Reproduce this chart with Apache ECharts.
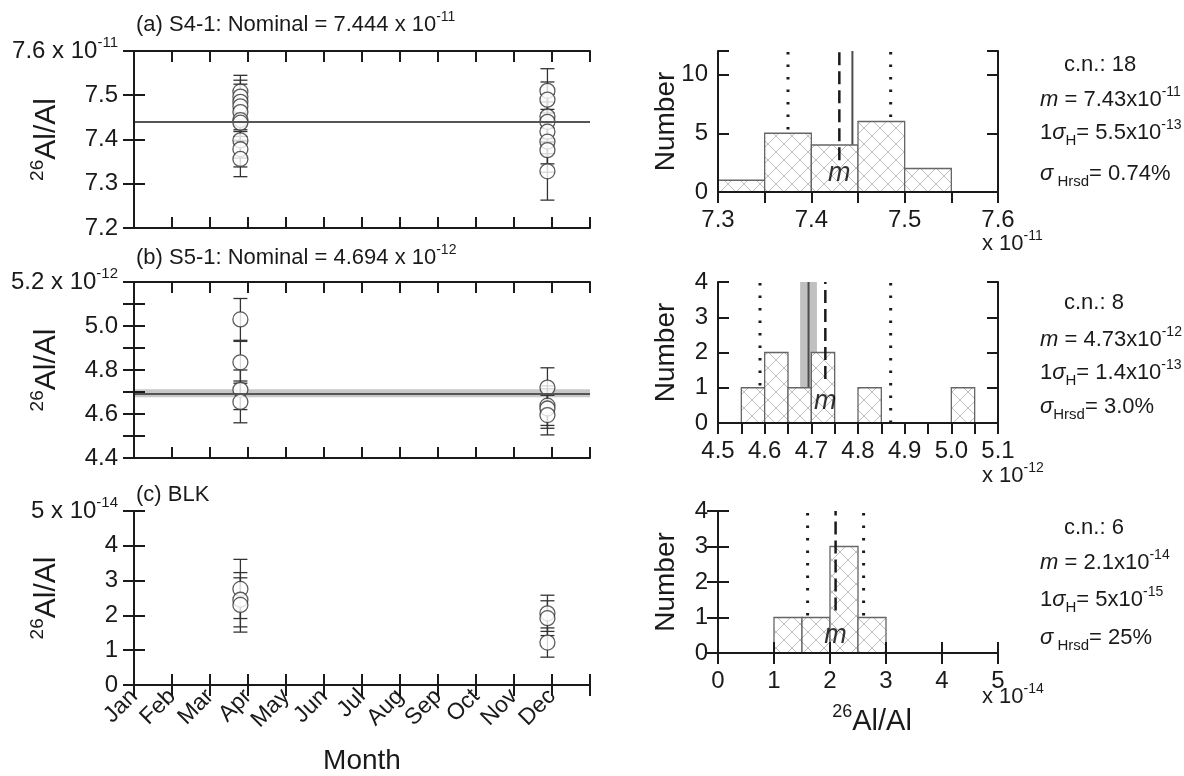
<!DOCTYPE html>
<html>
<head>
<meta charset="utf-8">
<script src="https://cdn.jsdelivr.net/npm/echarts@6/dist/echarts.min.js"></script>
<style>
  html, body { margin: 0; padding: 0; background: #fff; }
  #chart { width: 1184px; height: 776px; }
</style>
</head>
<body>
<div id="chart"></div>
<script>
// ---------------- data ----------------
const monthNames = ['Jan', 'Feb', 'Mar', 'Apr', 'May', 'Jun', 'Jul', 'Aug', 'Sep', 'Oct', 'Nov', 'Dec'];

// (a) S4-1 standard, 26Al/Al in units of 1e-11; date as month index (0 = 1 Jan)
const s41Month = [2.8, 2.8, 2.8, 2.8, 2.8, 2.8, 2.8, 2.8, 2.8, 2.8,
                  10.88, 10.88, 10.88, 10.88, 10.88, 10.88, 10.88, 10.88];
const s41Ratio = [7.508, 7.497, 7.485, 7.475, 7.462, 7.444, 7.438, 7.398, 7.378, 7.356,
                  7.510, 7.490, 7.452, 7.440, 7.418, 7.395, 7.376, 7.328];
const s41Err   = [0.037, 0.037, 0.040, 0.035, 0.040, 0.037, 0.040, 0.040, 0.040, 0.040,
                  0.050, 0.040, 0.050, 0.045, 0.050, 0.050, 0.050, 0.065];
const s41Nominal = 7.444;

// (b) S5-1 standard, units of 1e-12
const s51Month = [2.8, 2.8, 2.8, 2.8, 10.88, 10.88, 10.88, 10.88];
const s51Ratio = [5.030, 4.835, 4.710, 4.655, 4.720, 4.638, 4.625, 4.595];
const s51Err   = [0.095, 0.095, 0.090, 0.095, 0.090, 0.090, 0.090, 0.090];
const s51Nominal = 4.694;
const s51NominalErr = 0.018;

// (c) blank, units of 1e-14
const blkMonth = [2.8, 2.8, 2.8, 10.88, 10.88, 10.88];
const blkRatio = [2.76, 2.45, 2.30, 2.06, 1.92, 1.22];
const blkErr   = [0.85, 0.78, 0.78, 0.52, 0.50, 0.42];

// histograms: bin starts, bin width, counts, mean and 1 sigma
const histABins = [7.30, 7.35, 7.40, 7.45, 7.50];
const histACounts = [1, 5, 4, 6, 2];
const histAWidth = 0.05;
const histAMean = 7.43, histASigma = 0.055;

const histBBins = [4.55, 4.60, 4.65, 4.70, 4.80, 5.00];
const histBCounts = [1, 2, 1, 2, 1, 1];
const histBWidth = 0.05;
const histBMean = 4.73, histBSigma = 0.14;

const histCBins = [1.0, 1.5, 2.0, 2.5];
const histCCounts = [1, 1, 3, 1];
const histCWidth = 0.5;
const histCMean = 2.1, histCSigma = 0.5;

// statistics text
const statA = { sigmaH: '5.5', sigmaExp: '-13', rsd: '0.74%', gap: ' ' };
const statB = { sigmaH: '1.4', sigmaExp: '-13', rsd: '3.0%', gap: '' };
const statC = { sigmaH: '5', sigmaExp: '-15', rsd: '25%', gap: ' ' };

// ---------------- styling helpers ----------------
const FONT = '"Liberation Sans", Arial, Helvetica, sans-serif';
const INK = '#1a1a1a';

function richSet(size) {
  const s = Math.round(size * 0.62), b = Math.round(size * 0.7);
  const base = { fontFamily: FONT, color: INK, fontWeight: 'normal' };
  return {
    n:   Object.assign({}, base, { fontSize: size, lineHeight: size + 8 }),
    i:   Object.assign({}, base, { fontSize: size, fontStyle: 'italic', lineHeight: size + 8 }),
    sup: Object.assign({}, base, { fontSize: s, verticalAlign: 'top', lineHeight: s }),
    sub: Object.assign({}, base, { fontSize: b, verticalAlign: 'bottom', lineHeight: b })
  };
}

function tickLabel(v, min, max, step, every, dec, exp) {
  const k = Math.round((v - min) / step);
  if (k % every !== 0) return '';
  const s = v.toFixed(dec);
  if (exp && Math.abs(v - max) < step / 10) return '{n|' + s + ' x 10}{sup|' + exp + '}';
  return '{n|' + s + '}';
}

// cross-hatch fill for histogram bins
const hatch = (function () {
  const n = 16;
  const c = document.createElement('canvas');
  c.width = n; c.height = n;
  const g = c.getContext('2d');
  g.fillStyle = '#ffffff';
  g.fillRect(0, 0, n, n);
  g.strokeStyle = '#bdbdbd';
  g.lineWidth = 1;
  g.beginPath();
  g.moveTo(0, 0); g.lineTo(n, n);
  g.moveTo(n, 0); g.lineTo(0, n);
  g.stroke();
  return c;
})();

// ---------------- layout ----------------
const LEFT_X = 134, LEFT_W = 456;
const HIST_X = 718, HIST_W = 280;
const TICK_FONT = 24;
const rows = [
  {
    top: 51, leftH: 177, histH: 141,
    month: s41Month, ratio: s41Ratio, err: s41Err,
    yMin: 7.2, yMax: 7.6, yStep: 0.1, yEvery: 1, yDec: 1, exp: '-11',
    nominal: s41Nominal, nominalErr: 0,
    bins: histABins, counts: histACounts, width: histAWidth, mean: histAMean, sigma: histASigma,
    hxMin: 7.3, hxMax: 7.6, hxStep: 0.05, hxEvery: 2, hxDec: 1, hxBottomTicks: false,
    hyMax: 12, hyStep: 5, dashFrom: 2.7, mLabelY: 1.6, stat: statA
  },
  {
    top: 282, leftH: 176, histH: 141,
    month: s51Month, ratio: s51Ratio, err: s51Err,
    yMin: 4.4, yMax: 5.2, yStep: 0.1, yEvery: 2, yDec: 1, exp: '-12',
    nominal: s51Nominal, nominalErr: s51NominalErr,
    bins: histBBins, counts: histBCounts, width: histBWidth, mean: histBMean, sigma: histBSigma,
    hxMin: 4.5, hxMax: 5.1, hxStep: 0.05, hxEvery: 2, hxDec: 1, hxBottomTicks: false,
    hyMax: 4, hyStep: 1, dashFrom: 1.25, mLabelY: 0.62, stat: statB
  },
  {
    top: 511, leftH: 176, histH: 142,
    month: blkMonth, ratio: blkRatio, err: blkErr,
    yMin: 0, yMax: 5, yStep: 1, yEvery: 1, yDec: 0, exp: '-14',
    nominal: null, nominalErr: 0,
    bins: histCBins, counts: histCCounts, width: histCWidth, mean: histCMean, sigma: histCSigma,
    hxMin: 0, hxMax: 5, hxStep: 1, hxEvery: 1, hxDec: 0, hxBottomTicks: true,
    hyMax: 4, hyStep: 1, dashFrom: 1.2, mLabelY: 0.5, stat: statC
  }
];
const rowTitles = ['(a) S4-1: Nominal = ' + s41Nominal.toFixed(3) + ' x 10',
                   '(b) S5-1: Nominal = ' + s51Nominal.toFixed(3) + ' x 10',
                   '(c) BLK'];
const titleTops = [10, 243, 480];
const statTops = [[50, 85, 118, 159], [288, 325, 358, 392], [513, 548, 585, 623]];
const expTops = [229, 461, 682];

const axisLineStyle = { color: INK, width: 2 };
const tickStyle = { color: INK, width: 2 };

const grid = [], xAxis = [], yAxis = [], series = [], title = [];

rows.forEach(function (r, ri) {
  const gL = ri * 2, gH = ri * 2 + 1;
  grid.push({ left: LEFT_X, top: r.top, width: LEFT_W, height: r.leftH, containLabel: false });
  grid.push({ left: HIST_X, top: r.top, width: HIST_W, height: r.histH, containLabel: false });
  const isLast = ri === rows.length - 1;

  // ---- time-series panel axes ----
  xAxis.push({
    gridIndex: gL, type: 'value', min: 0, max: 12, interval: 1, z: 5,
    axisLine: { show: true, lineStyle: axisLineStyle },
    axisTick: { show: true, inside: true, length: 11, lineStyle: tickStyle },
    splitLine: { show: false },
    axisLabel: {
      show: isLast, rotate: 45, margin: 8, fontSize: 23, fontFamily: FONT, color: INK,
      formatter: function (v) { return monthNames[v] || ''; }
    },
    name: isLast ? 'Month' : '', nameLocation: 'middle', nameGap: 62, nameMoveOverlap: false,
    nameTextStyle: { fontFamily: FONT, fontSize: 28, color: INK }
  });
  xAxis.push({
    gridIndex: gL, type: 'value', position: 'top', min: 0, max: 12, interval: 1, z: 5,
    axisLine: { show: true, lineStyle: axisLineStyle },
    axisTick: { show: true, inside: true, length: 11, lineStyle: tickStyle },
    splitLine: { show: false }, axisLabel: { show: false }
  });
  yAxis.push({
    gridIndex: gL, type: 'value', min: r.yMin, max: r.yMax, interval: r.yStep, z: 5,
    axisLine: { show: true, lineStyle: axisLineStyle },
    axisTick: { show: true, inside: true, length: 11, lineStyle: tickStyle },
    splitLine: { show: false },
    axisLabel: {
      margin: 16, rich: richSet(TICK_FONT),
      formatter: function (v) { return tickLabel(v, r.yMin, r.yMax, r.yStep, r.yEvery, r.yDec, r.exp); }
    },
    name: '{sup|26}{n|Al/Al}', nameLocation: 'middle', nameRotate: 90, nameGap: 68,
    nameMoveOverlap: false,
    nameTextStyle: { rich: richSet(30) }
  });
  yAxis.push({
    gridIndex: gL, type: 'value', position: 'right', min: r.yMin, max: r.yMax, interval: r.yStep, z: 5,
    axisLine: { show: true, lineStyle: axisLineStyle },
    axisTick: { show: true, inside: true, length: 11, lineStyle: tickStyle },
    splitLine: { show: false }, axisLabel: { show: false }
  });

  // ---- histogram axes ----
  xAxis.push({
    gridIndex: gH, type: 'value', min: r.hxMin, max: r.hxMax, interval: r.hxStep, z: 5,
    axisLine: { show: true, lineStyle: axisLineStyle },
    axisTick: { show: r.hxBottomTicks, inside: true, length: 11, lineStyle: tickStyle },
    splitLine: { show: false },
    axisLabel: {
      margin: 12, rich: richSet(TICK_FONT),
      formatter: function (v) { return tickLabel(v, r.hxMin, r.hxMax, r.hxStep, r.hxEvery, r.hxDec, null); }
    },
    name: isLast ? '{sup|26}{n|Al/Al}' : '', nameLocation: 'middle', nameGap: 50, nameMoveOverlap: false,
    nameTextStyle: { rich: richSet(29), padding: [0, 0, 0, 28] }
  });
  xAxis.push({
    gridIndex: gH, type: 'value', position: 'top', min: r.hxMin, max: r.hxMax, interval: r.hxStep, z: 5,
    axisLine: { show: true, lineStyle: axisLineStyle },
    axisTick: { show: true, inside: true, length: 11, lineStyle: tickStyle },
    splitLine: { show: false }, axisLabel: { show: false }
  });
  yAxis.push({
    gridIndex: gH, type: 'value', min: 0, max: r.hyMax, interval: r.hyStep, z: 5,
    axisLine: { show: true, lineStyle: axisLineStyle },
    axisTick: { show: true, inside: true, length: 11, lineStyle: tickStyle },
    splitLine: { show: false },
    axisLabel: {
      margin: 10, rich: richSet(TICK_FONT),
      formatter: function (v) { return (Math.round(v) % r.hyStep === 0) ? '{n|' + Math.round(v) + '}' : ''; }
    },
    name: 'Number', nameLocation: 'middle', nameRotate: 90, nameGap: 38, nameMoveOverlap: false,
    nameTextStyle: { fontFamily: FONT, fontSize: 28, color: INK }
  });
  yAxis.push({
    gridIndex: gH, type: 'value', position: 'right', min: 0, max: r.hyMax, interval: r.hyStep, z: 5,
    axisLine: { show: true, lineStyle: axisLineStyle },
    axisTick: { show: true, inside: true, length: 11, lineStyle: tickStyle },
    splitLine: { show: false }, axisLabel: { show: false }
  });

  const axL = { xAxisIndex: ri * 4, yAxisIndex: ri * 4 };
  const axH = { xAxisIndex: ri * 4 + 2, yAxisIndex: ri * 4 + 2 };

  // ---- time-series panel ----
  if (r.nominal !== null) {
    const ref = Object.assign({
      type: 'line', data: [], z: 1, silent: true,
      markLine: {
        silent: true, symbol: ['none', 'none'], label: { show: false },
        lineStyle: { color: '#555', width: 2, type: 'solid' },
        data: [{ yAxis: r.nominal }]
      }
    }, axL);
    if (r.nominalErr > 0) {
      ref.markArea = {
        silent: true, itemStyle: { color: '#c8c8c8' },
        data: [[{ yAxis: r.nominal - r.nominalErr }, { yAxis: r.nominal + r.nominalErr }]]
      };
    }
    series.push(ref);
  }
  series.push(Object.assign({
    type: 'custom', z: 3, silent: true,
    data: r.month.map(function (m, i) { return [m, r.ratio[i], r.err[i]]; }),
    encode: { x: 0, y: 1 },
    renderItem: function (params, api) {
      const x = api.value(0), y = api.value(1), e = api.value(2);
      const t = api.coord([x, y + e]), b = api.coord([x, y - e]);
      const w = 7;
      const st = { stroke: '#333', lineWidth: 1.3, fill: null };
      return {
        type: 'group', children: [
          { type: 'line', shape: { x1: t[0], y1: t[1], x2: b[0], y2: b[1] }, style: st },
          { type: 'line', shape: { x1: t[0] - w, y1: t[1], x2: t[0] + w, y2: t[1] }, style: st },
          { type: 'line', shape: { x1: b[0] - w, y1: b[1], x2: b[0] + w, y2: b[1] }, style: st }
        ]
      };
    }
  }, axL));
  series.push(Object.assign({
    type: 'scatter', z: 4, silent: true,
    data: r.month.map(function (m, i) { return [m, r.ratio[i]]; }),
    symbol: 'circle', symbolSize: 15,
    itemStyle: { color: '#ffffff', borderColor: '#333', borderWidth: 1.3 }
  }, axL));

  // ---- histogram panel ----
  if (r.nominal !== null) {
    const nl = Object.assign({
      type: 'line', z: 1, silent: true, symbol: 'none',
      data: [[r.nominal, 0], [r.nominal, r.hyMax]],
      lineStyle: { color: '#4d4d4d', width: 2 }
    }, axH);
    if (r.nominalErr > 0) {
      nl.markArea = {
        silent: true, itemStyle: { color: '#c0c0c0' },
        data: [[{ xAxis: r.nominal - r.nominalErr }, { xAxis: r.nominal + r.nominalErr }]]
      };
    }
    series.push(nl);
  }
  [r.mean - r.sigma, r.mean + r.sigma].forEach(function (xv) {
    series.push(Object.assign({
      type: 'line', z: 1, silent: true, symbol: 'none',
      data: [[xv, 0], [xv, r.hyMax]],
      lineStyle: { color: INK, width: 3, type: [2.5, 10] }
    }, axH));
  });
  series.push(Object.assign({
    type: 'custom', z: 2, silent: true,
    data: r.bins.map(function (b, i) { return [b, b + r.width, r.counts[i]]; }),
    encode: { x: [0, 1], y: 2 },
    renderItem: function (params, api) {
      const p0 = api.coord([api.value(0), 0]);
      const p1 = api.coord([api.value(1), api.value(2)]);
      return {
        type: 'rect',
        shape: { x: p0[0], y: p1[1], width: p1[0] - p0[0], height: p0[1] - p1[1] },
        style: { fill: { image: hatch, repeat: 'repeat' }, stroke: '#666', lineWidth: 1.3 }
      };
    }
  }, axH));
  series.push(Object.assign({
    type: 'line', z: 3, silent: true, symbol: 'none',
    data: [[r.mean, r.dashFrom], [r.mean, r.hyMax]],
    lineStyle: { color: INK, width: 2.5, type: [13, 6] }
  }, axH));
  series.push(Object.assign({
    type: 'scatter', z: 4, silent: true,
    data: [[r.mean, r.mLabelY]], symbolSize: 1, itemStyle: { color: 'rgba(0,0,0,0)' },
    label: {
      show: true, position: 'inside', formatter: 'm',
      fontFamily: FONT, fontSize: 27, fontStyle: 'italic', color: '#000',
      textBorderWidth: 0
    }
  }, axH));

  // ---- text ----
  title.push({
    text: '{n|' + rowTitles[ri] + '}' + (r.nominal !== null ? '{sup|' + r.exp + '}' : ''),
    left: 136, top: titleTops[ri], padding: 0,
    textStyle: { fontWeight: 'normal', rich: richSet(22) }
  });
  const total = r.counts.reduce(function (a, b) { return a + b; }, 0);
  const st = r.stat;
  const statLines = [
    '{n|c.n.: ' + total + '}',
    '{i|m}{n| = ' + (r.hxDec ? r.mean.toFixed(2) : r.mean.toFixed(1)) + 'x10}{sup|' + r.exp + '}',
    '{n|1}{i|σ}{sub|H}{n|= ' + st.sigmaH + 'x10}{sup|' + st.sigmaExp + '}',
    '{i|σ}{sub|' + st.gap + 'Hrsd}{n|= ' + st.rsd + '}'
  ];
  statLines.forEach(function (txt, k) {
    title.push({
      text: txt, left: k === 0 ? 1064 : 1040, top: statTops[ri][k], padding: 0,
      textStyle: { fontWeight: 'normal', rich: richSet(22) }
    });
  });
  title.push({
    text: '{n|x 10}{sup|' + r.exp + '}', left: 982, top: expTops[ri], padding: 0,
    textStyle: { fontWeight: 'normal', rich: richSet(22) }
  });
});

const chart = echarts.init(document.getElementById('chart'), null, { renderer: 'canvas' });
chart.setOption({
  animation: false,
  backgroundColor: '#ffffff',
  textStyle: { fontFamily: FONT, color: INK },
  title: title,
  grid: grid,
  xAxis: xAxis,
  yAxis: yAxis,
  series: series
});
</script>
</body>
</html>
